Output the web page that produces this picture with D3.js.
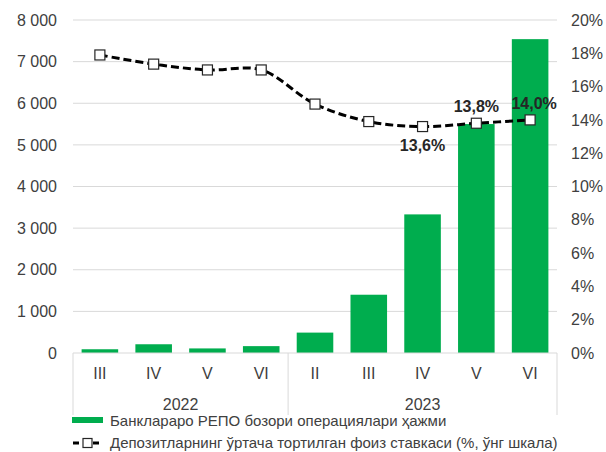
<!DOCTYPE html>
<html>
<head>
<meta charset="utf-8">
<script src="https://cdn.jsdelivr.net/npm/d3@7/dist/d3.min.js"></script>
<style>
  html, body { margin: 0; padding: 0; background: #fff; }
  svg { display: block; font-family: Arial, "Liberation Sans", sans-serif; }
</style>
</head>
<body>
<svg id="chart" width="606" height="452"></svg>
<script>
// Monthly interbank REPO volume and average weighted deposit rate
const months = ["III", "IV", "V", "VI", "II", "III", "IV", "V", "VI"];
const years = ["2022", "2022", "2022", "2022", "2023", "2023", "2023", "2023", "2023"];
const repoVolume = [90, 210, 110, 165, 490, 1400, 3330, 5500, 7540];
const depositRate = [17.9, 17.35, 17.0, 17.0, 14.95, 13.9, 13.6, 13.8, 14.0];
const leftTicks = [0, 1000, 2000, 3000, 4000, 5000, 6000, 7000, 8000];
const rightTicks = [0, 2, 4, 6, 8, 10, 12, 14, 16, 18, 20];
const labelled = { 6: "below", 7: "above", 8: "above" };
const legendLabels = [
  "Банклараро РЕПО бозори операциялари ҳажми",
  "Депозитларнинг ўртача тортилган фоиз ставкаси (%, ўнг шкала)"
];

const svg = d3.select("#chart");
const plotLeft = 73, plotRight = 557, plotTop = 20, plotBottom = 353;
const textColor = "#404040";
const green = "#00ad4e";
const gridColor = "#d9d9d9";

const idx = months.map((d, i) => i);
const x = d3.scaleBand().domain(idx).range([plotLeft, plotRight]).paddingInner(0.32).paddingOuter(0.16);
const yL = d3.scaleLinear().domain([0, 8000]).range([plotBottom, plotTop]);
const yR = d3.scaleLinear().domain([0, 20]).range([plotBottom, plotTop]);

const fmtThousands = v => d3.format(",")(v).replace(/,/g, " ");

// gridlines
svg.append("g").selectAll("line").data(leftTicks.filter(t => t > 0)).join("line")
  .attr("x1", plotLeft).attr("x2", plotRight)
  .attr("y1", d => yL(d)).attr("y2", d => yL(d))
  .attr("stroke", gridColor).attr("stroke-width", 1);

// left axis
const axL = svg.append("g").attr("transform", `translate(${plotLeft},0)`)
  .call(d3.axisLeft(yL).tickValues(leftTicks).tickSize(0).tickPadding(16).tickFormat(fmtThousands));
axL.select(".domain").remove();
axL.selectAll("text").attr("font-size", 16).attr("fill", textColor).attr("font-family", "Arial, 'Liberation Sans', sans-serif");

// right axis
const axR = svg.append("g").attr("transform", `translate(${plotRight},0)`)
  .call(d3.axisRight(yR).tickValues(rightTicks).tickSize(0).tickPadding(14).tickFormat(d => d + "%"));
axR.select(".domain").remove();
axR.selectAll("text").attr("font-size", 16).attr("fill", textColor).attr("font-family", "Arial, 'Liberation Sans', sans-serif");

// bars
svg.append("g").selectAll("rect").data(repoVolume).join("rect")
  .attr("x", (d, i) => x(i))
  .attr("width", x.bandwidth())
  .attr("y", d => yL(d))
  .attr("height", d => plotBottom - yL(d))
  .attr("fill", green);

// category axis: baseline, month labels, year groups
svg.append("line").attr("x1", plotLeft).attr("x2", plotRight).attr("y1", plotBottom).attr("y2", plotBottom)
  .attr("stroke", gridColor).attr("stroke-width", 1);

const step = x.step();
const catX = i => x(i) + x.bandwidth() / 2;
svg.append("g").selectAll("text").data(months).join("text")
  .attr("x", (d, i) => catX(i)).attr("y", 379)
  .attr("text-anchor", "middle").attr("font-size", 16).attr("fill", textColor)
  .text(d => d);

const yearGroups = d3.groups(idx, i => years[i]);
const bounds = [plotLeft];
yearGroups.forEach(([yr, ids]) => {
  const x0 = catX(ids[0]) - step / 2, x1 = catX(ids[ids.length - 1]) + step / 2;
  bounds.push(x1);
  svg.append("text").attr("x", (x0 + x1) / 2).attr("y", 410)
    .attr("text-anchor", "middle").attr("font-size", 16).attr("fill", textColor).text(yr);
});
svg.append("g").selectAll("line").data(bounds).join("line")
  .attr("x1", d => d).attr("x2", d => d).attr("y1", plotBottom).attr("y2", 415)
  .attr("stroke", gridColor).attr("stroke-width", 1);

// deposit rate line
const line = d3.line().x((d, i) => catX(i)).y(d => yR(d)).curve(d3.curveCatmullRom.alpha(0.5));
svg.append("path").datum(depositRate)
  .attr("d", line).attr("fill", "none")
  .attr("stroke", "#000").attr("stroke-width", 3).attr("stroke-dasharray", "8,4");

const ms = 10;
svg.append("g").selectAll("rect").data(depositRate).join("rect")
  .attr("x", (d, i) => catX(i) - ms / 2).attr("y", d => yR(d) - ms / 2)
  .attr("width", ms).attr("height", ms)
  .attr("fill", "#fff").attr("stroke", "#262626").attr("stroke-width", 1.2);

// value labels
svg.append("g").selectAll("text").data(Object.keys(labelled).map(Number)).join("text")
  .attr("x", i => catX(i) + (i === 8 ? 4 : 0))
  .attr("y", i => labelled[i] === "above" ? yR(depositRate[i]) - 11 : yR(depositRate[i]) + 24)
  .attr("text-anchor", "middle").attr("font-size", 16).attr("font-weight", "bold").attr("fill", "#262626")
  .text(i => d3.format(".1f")(depositRate[i]).replace(".", ",") + "%");

// legend
const lg = svg.append("g");
lg.append("rect").attr("x", 72).attr("y", 417).attr("width", 31).attr("height", 6).attr("fill", green);
lg.append("text").attr("x", 110).attr("y", 426).attr("font-size", 15).attr("fill", textColor).text(legendLabels[0]);
lg.append("line").attr("x1", 72).attr("x2", 103).attr("y1", 443).attr("y2", 443)
  .attr("stroke", "#000").attr("stroke-width", 3).attr("stroke-dasharray", "6,4").attr("stroke-dashoffset", -1);
lg.append("rect").attr("x", 87.5 - 4.5).attr("y", 443 - 4.5).attr("width", 9).attr("height", 9)
  .attr("fill", "#fff").attr("stroke", "#262626").attr("stroke-width", 1.2);
lg.append("text").attr("x", 110).attr("y", 448).attr("font-size", 15).attr("fill", textColor).text(legendLabels[1]);
</script>
</body>
</html>
